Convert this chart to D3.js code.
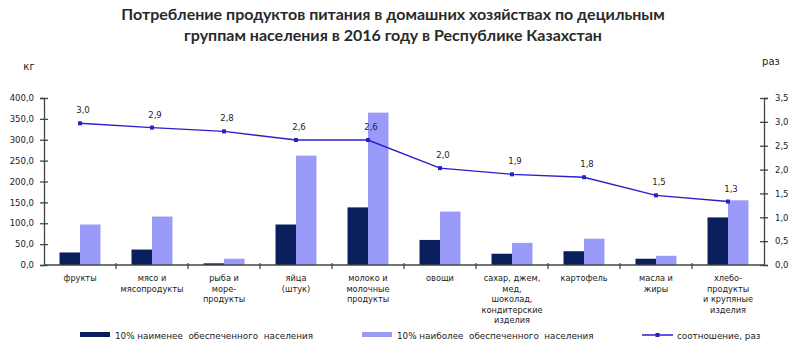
<!DOCTYPE html>
<html>
<head>
<meta charset="utf-8">
<script src="https://cdn.jsdelivr.net/npm/d3@7"></script>
<style>
  body { margin: 0; background: #fff; }
  svg text { font-family: "DejaVu Sans", Verdana, sans-serif; fill: #222; }
</style>
</head>
<body>
<div id="chart-div"></div>
<script>
// данные ----------------------------------------------------------------
const categories = [
  ['фрукты'],
  ['мясо и', 'мясопродукты'],
  ['рыба и', 'море-', 'продукты'],
  ['яйца', '(штук)'],
  ['молоко и', 'молочные', 'продукты'],
  ['овощи'],
  ['сахар, джем,', 'мед,', 'шоколад,', 'кондитерские', 'изделия'],
  ['картофель'],
  ['масла и', 'жиры'],
  ['хлебо-', 'продукты', 'и крупяные', 'изделия']
];
const lowIncome  = [30, 37, 4, 97, 138, 60, 27, 33, 15, 114];
const highIncome = [97, 116, 15, 262, 365, 128, 53, 63, 22, 155];
const ratio      = [2.97, 2.88, 2.80, 2.62, 2.62, 2.03, 1.90, 1.84, 1.46, 1.33];
const leftTicks  = [0, 50, 100, 150, 200, 250, 300, 350, 400];
const rightTicks = [0, 0.5, 1, 1.5, 2, 2.5, 3, 3.5];
const seriesNames = ['10% наименее  обеспеченного  населения', '10% наиболее  обеспеченного  населения', 'соотношение, раз'];
const titleLines = ['Потребление продуктов питания в домашних хозяйствах по децильным', 'группам населения в 2016 году в Республике Казахстан'];

// размеры ---------------------------------------------------------------
const width = 800, height = 353;
const mLeft = 44, mRight = 764, mTop = 98, mBottom = 265;
const darkColor = '#0b1f5c', lightColor = '#9a9af8', lineColor = '#2a20c8', axisColor = '#444';
const fmt = v => d3.format('.1f')(v).replace('.', ',');

const svg = d3.select('#chart-div').append('svg')
  .attr('width', width).attr('height', height);

// шкалы
const x = d3.scaleBand().domain(d3.range(categories.length)).range([mLeft, mRight]);
const yL = d3.scaleLinear().domain([0, 400]).range([mBottom, mTop]);
const yR = d3.scaleLinear().domain([0, 3.5]).range([mBottom, mTop]);
const barW = 20.5;

// заголовок
svg.append('g').selectAll('text').data(titleLines).enter().append('text')
  .attr('x', 393).attr('y', (d, i) => 20 + i * 21)
  .attr('text-anchor', 'middle')
  .style('font-family', 'Lato, "Open Sans", sans-serif')
  .style('font-weight', 'bold').style('font-size', '16px').style('fill', '#2a2a2a')
  .text(d => d);

// единицы
svg.append('text').attr('x', 29).attr('y', 70).attr('text-anchor', 'middle')
  .style('font-size', '10px').text('кг');
svg.append('text').attr('x', 771).attr('y', 65).attr('text-anchor', 'middle')
  .style('font-size', '10px').text('раз');

// столбцы
const barG = svg.append('g');
barG.selectAll('.low').data(lowIncome).enter().append('rect')
  .attr('x', (d, i) => x(i) + x.bandwidth() / 2 - barW)
  .attr('y', d => yL(d)).attr('width', barW).attr('height', d => yL(0) - yL(d))
  .attr('fill', darkColor);
barG.selectAll('.high').data(highIncome).enter().append('rect')
  .attr('x', (d, i) => x(i) + x.bandwidth() / 2)
  .attr('y', d => yL(d)).attr('width', barW).attr('height', d => yL(0) - yL(d))
  .attr('fill', lightColor);

// оси
const axL = svg.append('g').attr('transform', 'translate(' + mLeft + ',0)')
  .call(d3.axisLeft(yL).tickValues(leftTicks).tickSize(4).tickFormat(fmt));
const axR = svg.append('g').attr('transform', 'translate(' + mRight + ',0)')
  .call(d3.axisRight(yR).tickValues(rightTicks).tickSize(4).tickFormat(fmt));
[axL, axR].forEach(ax => {
  ax.select('.domain').attr('stroke', axisColor).attr('stroke-width', 1.3);
  ax.selectAll('.tick line').attr('stroke', axisColor).attr('stroke-width', 1.3);
  ax.selectAll('.tick text').style('font-size', '8.5px').style('font-family', '"DejaVu Sans", sans-serif').attr('fill', '#222');
});
axL.selectAll('.tick line').attr('x1', 4).attr('x2', -4);
axL.selectAll('.tick text').attr('x', -10);
axR.selectAll('.tick line').attr('x1', -4).attr('x2', 4);
axR.selectAll('.tick text').attr('x', 11);

// нижняя ось
const xAx = svg.append('g').attr('transform', 'translate(0,' + mBottom + ')');
xAx.append('line').attr('x1', mLeft).attr('x2', mRight)
  .attr('stroke', axisColor).attr('stroke-width', 1.3);
xAx.selectAll('.xt').data(d3.range(1, categories.length)).enter().append('line')
  .attr('x1', d => x(d)).attr('x2', d => x(d)).attr('y1', -2).attr('y2', 4)
  .attr('stroke', axisColor).attr('stroke-width', 1.2);
const catG = xAx.selectAll('.cat').data(categories).enter().append('text')
  .attr('text-anchor', 'middle').style('font-size', '8.2px');
catG.selectAll('tspan').data((d, i) => d.map(s => ({ s, i }))).enter().append('tspan')
  .attr('x', d => x(d.i) + x.bandwidth() / 2)
  .attr('y', (d, j) => 16 + j * 10.5)
  .text(d => d.s);

// линия соотношения
const cx = i => x(i) + x.bandwidth() / 2;
svg.append('path').datum(ratio)
  .attr('d', d3.line().x((d, i) => cx(i)).y(d => yR(d)))
  .attr('fill', 'none').attr('stroke', lineColor).attr('stroke-width', 1.4);
svg.append('g').selectAll('rect').data(ratio).enter().append('rect')
  .attr('x', (d, i) => cx(i) - 2).attr('y', d => yR(d) - 2)
  .attr('width', 4).attr('height', 4).attr('fill', lineColor);
svg.append('g').selectAll('text').data(ratio).enter().append('text')
  .attr('x', (d, i) => cx(i) + 3).attr('y', d => yR(d) - 10)
  .attr('text-anchor', 'middle').style('font-size', '8.5px')
  .text(d => fmt(d));

// легенда
const legend = [
  { x: 80, name: seriesNames[0], type: 'bar', color: darkColor },
  { x: 362, name: seriesNames[1], type: 'bar', color: lightColor },
  { x: 642, name: seriesNames[2], type: 'line', color: lineColor }
];
const lg = svg.append('g').selectAll('g').data(legend).enter().append('g')
  .attr('transform', d => 'translate(' + d.x + ',335)');
lg.filter(d => d.type === 'bar').append('rect')
  .attr('x', 0).attr('y', -3).attr('width', 30).attr('height', 5).attr('fill', d => d.color);
lg.filter(d => d.type === 'line').append('line')
  .attr('x1', 0).attr('x2', 31).attr('y1', 0).attr('y2', 0)
  .attr('stroke', d => d.color).attr('stroke-width', 1.5);
lg.filter(d => d.type === 'line').append('rect')
  .attr('x', 13.5).attr('y', -2).attr('width', 4).attr('height', 4).attr('fill', d => d.color);
lg.append('text').attr('x', 35).attr('y', 3.5)
  .style('font-size', '8.8px').style('white-space', 'pre')
  .text(d => d.name);
</script>
</body>
</html>
